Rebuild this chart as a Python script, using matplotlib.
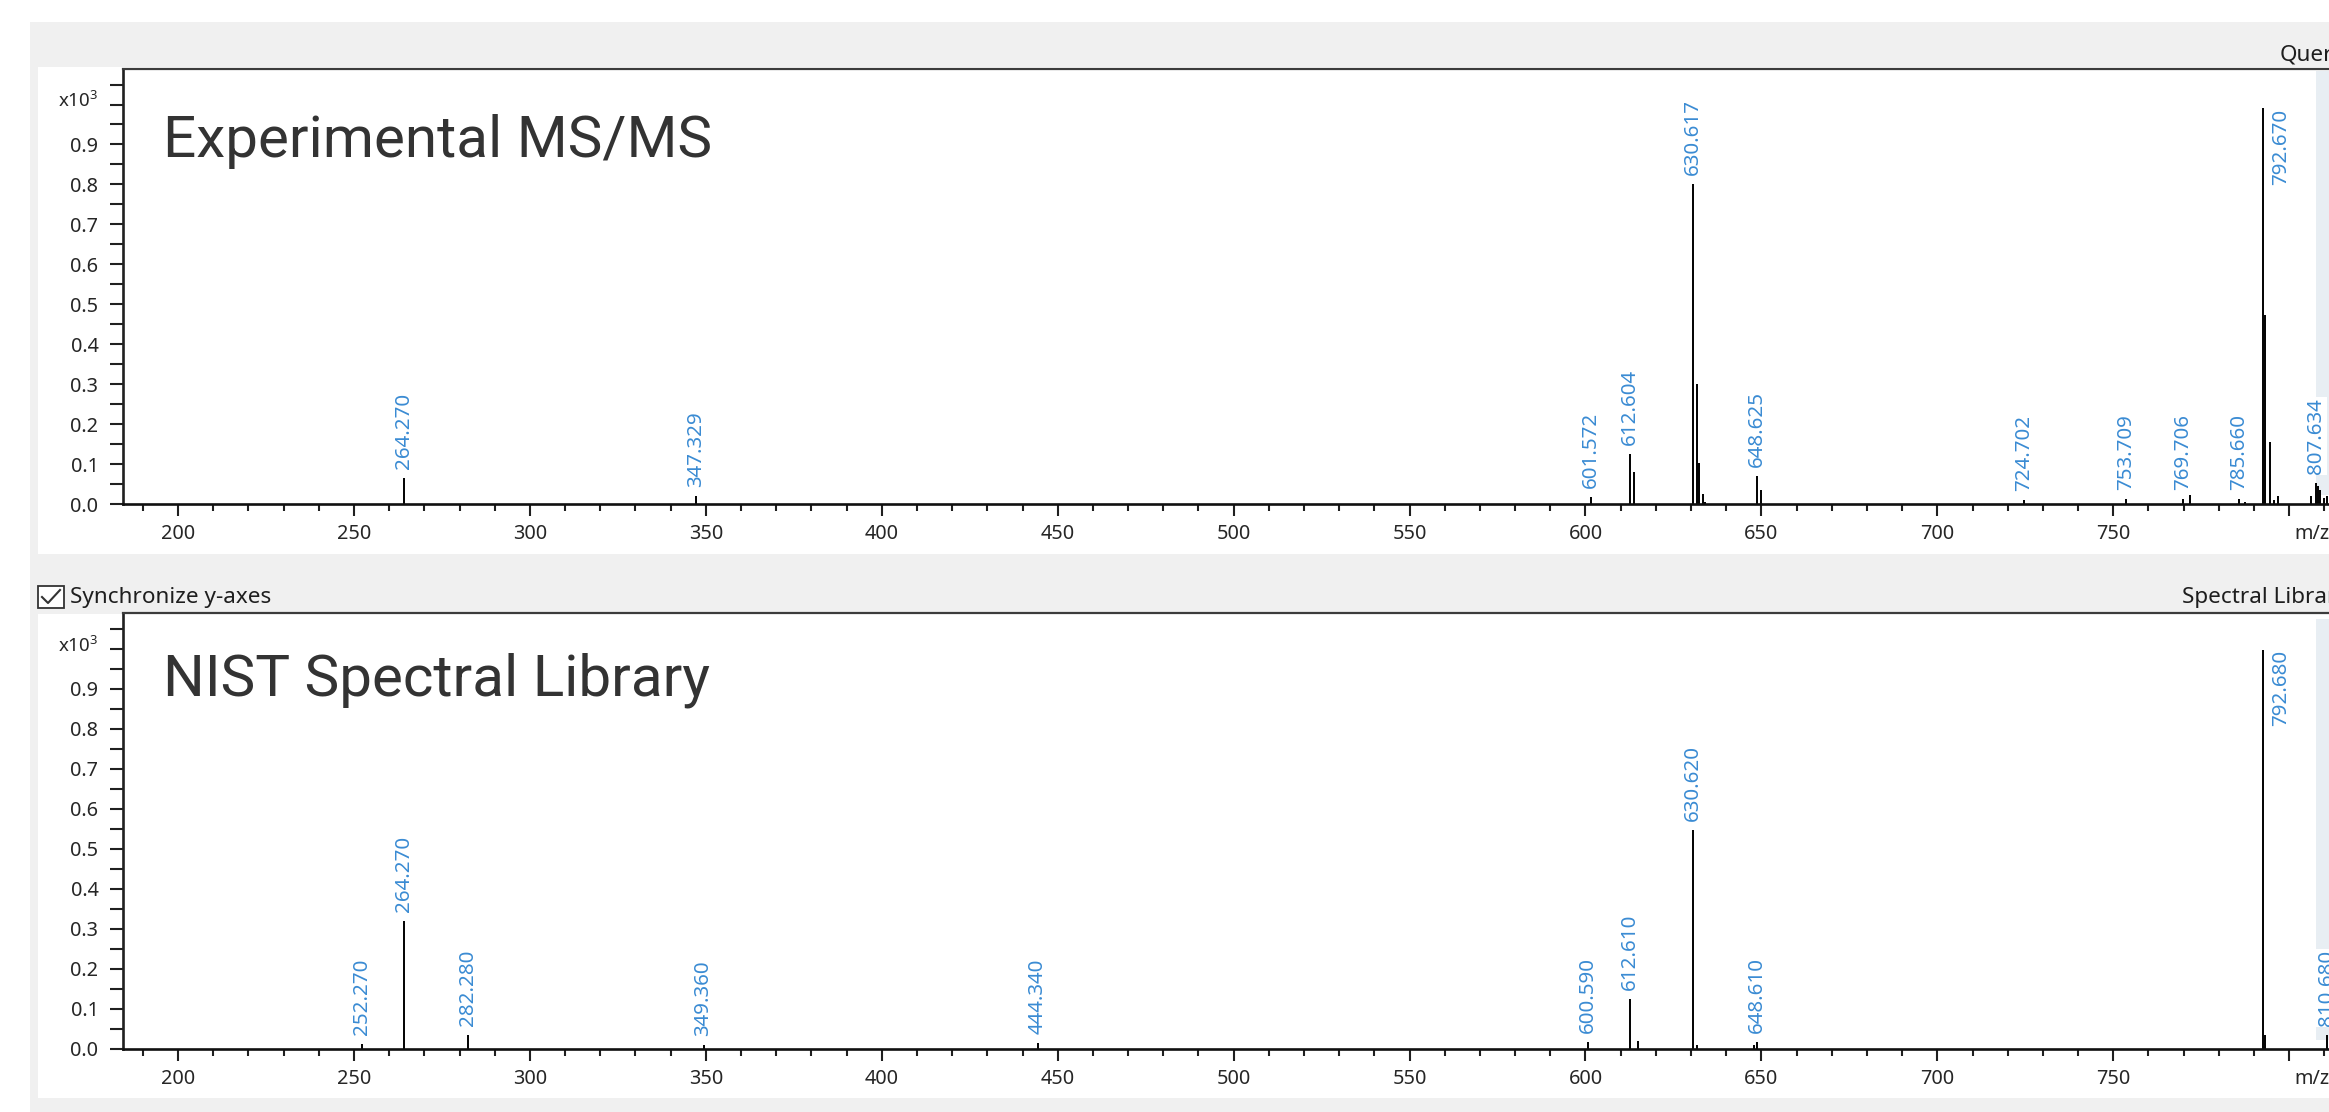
import matplotlib
matplotlib.use("Agg")
import matplotlib.pyplot as plt
from matplotlib.patches import Rectangle
from matplotlib.lines import Line2D
from matplotlib.ticker import MultipleLocator, FixedLocator, FixedFormatter

plt.rcParams['font.family'] = ['Noto Sans', 'DejaVu Sans']
plt.rcParams['mathtext.default'] = 'regular'

# ---------------- data ----------------
# Experimental MS/MS (relative intensity, x10^3)
exp_label_mz = [264.270, 347.329, 601.572, 612.604, 630.617, 648.625,
                724.702, 753.709, 769.706, 785.660, 792.670, 807.634]
exp_label_int = [0.065, 0.020, 0.017, 0.126, 0.802, 0.071,
                 0.011, 0.012, 0.012, 0.013, 0.990, 0.052]
exp_other_mz = [613.74, 631.67, 632.12, 633.37, 634.00, 649.76,
                771.75, 787.55, 793.17, 794.55, 795.60, 796.70,
                806.20, 808.10, 808.80, 810.00, 810.60]
exp_other_int = [0.080, 0.300, 0.102, 0.025, 0.005, 0.034,
                 0.022, 0.006, 0.474, 0.155, 0.010, 0.020,
                 0.020, 0.045, 0.035, 0.015, 0.020]

# NIST Spectral Library
lib_label_mz = [252.270, 264.270, 282.280, 349.360, 444.340, 600.590,
                612.610, 630.620, 648.610, 792.680, 810.680]
lib_label_int = [0.012, 0.320, 0.033, 0.008, 0.013, 0.016,
                 0.124, 0.548, 0.017, 0.998, 0.034]
lib_other_mz = [614.80, 631.60, 648.00, 793.10]
lib_other_int = [0.020, 0.008, 0.010, 0.034]

x_ticks = [200, 250, 300, 350, 400, 450, 500, 550, 600, 650, 700, 750, 800]
x_tick_labels = ['200', '250', '300', '350', '400', '450', '500', '550',
                 '600', '650', '700', '750', '']
y_ticks = [0.0, 0.1, 0.2, 0.3, 0.4, 0.5, 0.6, 0.7, 0.8, 0.9, 1.0]
y_tick_labels = ['0.0', '0.1', '0.2', '0.3', '0.4', '0.5', '0.6', '0.7',
                 '0.8', '0.9', '']

panel_titles = ['Experimental MS/MS', 'NIST Spectral Library']

# ---------------- layout ----------------
W, H, DPI = 2329, 1112, 100
fig = plt.figure(figsize=(W / DPI, H / DPI), dpi=DPI, facecolor='white')


def fx(x):
    return x / W


def fy(y):
    return 1 - y / H


def fig_rect(x0, y0, x1, y1, color, z=-5, ec='none', lw=0):
    r = Rectangle((fx(x0), fy(y1)), fx(x1) - fx(x0), fy(y0) - fy(y1),
                  transform=fig.transFigure, facecolor=color,
                  edgecolor=ec, linewidth=lw, zorder=z)
    fig.add_artist(r)
    return r


# window background
fig_rect(30, 22, W + 5, H + 5, '#f0f0f0', z=-10)
fig_rect(38, 67, W + 5, 554, 'white', z=-9)
fig_rect(38, 614, W + 5, 1098, 'white', z=-9)

AX_L = 123.3
MZ0, MZ1 = 184.45, 830.0
PX_PER_MZ = 3.5187
Y1 = 1.09
PX_PER_I = 399.5
ax_w = (MZ1 - MZ0) * PX_PER_MZ
ax_h = Y1 * PX_PER_I

baselines = [504.0, 1048.5]
title_pos = [(163, 157), (163, 695)]
strips = [(71, 495), (619, 1040)]

label_color = '#3a8bd3'
tick_color = '#262626'
TICK_FS = 14.3
LABEL_FS = 14.8

panels = [
    (exp_label_mz, exp_label_int, exp_other_mz, exp_other_int),
    (lib_label_mz, lib_label_int, lib_other_mz, lib_other_int),
]

for i, (lmz, lint, omz, oint) in enumerate(panels):
    base = baselines[i]
    ax = fig.add_axes([fx(AX_L), fy(base), ax_w / W, ax_h / H])
    ax.set_zorder(0)
    ax.set_xlim(MZ0, MZ1)
    ax.set_ylim(0, Y1)
    ax.set_facecolor('white')

    # light strip at the right edge
    sy0, sy1 = strips[i]
    ax.add_patch(Rectangle((fx(2316), fy(sy1)), fx(W + 5) - fx(2316),
                           fy(sy0) - fy(sy1), transform=fig.transFigure,
                           facecolor='#e8eef3', edgecolor='none', zorder=0.5))

    ax.vlines(omz, 0, oint, color='black', lw=1.4, zorder=2)
    ax.vlines(lmz, 0, lint, color='black', lw=1.4, zorder=2)

    for mz, inten in zip(lmz, lint):
        txt = f'{mz:.3f}'
        if inten > 0.9:
            ax.annotate(txt, (mz, inten), xytext=(13.0, 0), textcoords='offset points',
                        rotation=90, ha='center', va='top', fontsize=LABEL_FS,
                        color=label_color, annotation_clip=False, zorder=4,
                        bbox=dict(boxstyle='square,pad=0.05', fc='white', ec='none'))
        else:
            ax.annotate(txt, (mz, inten), xytext=(0, 6.5), textcoords='offset points',
                        rotation=90, ha='center', va='bottom', fontsize=LABEL_FS,
                        color=label_color, annotation_clip=False, zorder=4,
                        bbox=dict(boxstyle='square,pad=0.05', fc='white', ec='none'))

    # spines
    ax.spines['right'].set_visible(False)
    ax.spines['top'].set_color('#3c3c3c')
    ax.spines['top'].set_linewidth(1.6)
    ax.spines['left'].set_color('#202020')
    ax.spines['left'].set_linewidth(1.9)
    ax.spines['bottom'].set_color('#101010')
    ax.spines['bottom'].set_linewidth(1.9)

    # ticks
    ax.xaxis.set_major_locator(FixedLocator(x_ticks))
    ax.xaxis.set_major_formatter(FixedFormatter(x_tick_labels))
    ax.xaxis.set_minor_locator(MultipleLocator(10))
    ax.yaxis.set_major_locator(FixedLocator(y_ticks))
    ax.yaxis.set_major_formatter(FixedFormatter(y_tick_labels))
    ax.yaxis.set_minor_locator(MultipleLocator(0.05))
    ax.tick_params(axis='x', which='major', length=8.6, width=1.5, pad=6.0,
                   labelsize=TICK_FS, color='#202020', labelcolor=tick_color)
    ax.tick_params(axis='x', which='minor', length=4.7, width=1.5, color='#202020')
    ax.tick_params(axis='y', which='major', length=9.4, width=1.5, pad=8.5,
                   labelsize=TICK_FS, color='#202020', labelcolor=tick_color)
    ax.tick_params(axis='y', which='minor', length=9.4, width=1.5, color='#202020')

    ax.annotate('m/z', xy=(800, 0), xycoords='data', xytext=(3.5, -(8.6 + 6.0)),
                textcoords='offset points', ha='left', va='top', fontsize=TICK_FS,
                color=tick_color, annotation_clip=False)
    ax.annotate('x10$^{3}$', xy=(0, 1.0), xycoords=('axes fraction', 'data'),
                xytext=(-(9.4 + 8.5), 2.5), textcoords='offset points', ha='right',
                va='center', fontsize=13.5, color=tick_color, annotation_clip=False)

    tx, ty = title_pos[i]
    fig.text(fx(tx), fy(ty), panel_titles[i], fontsize=42, family='Roboto',
             color='#333333', va='baseline', ha='left', zorder=5)

# header texts
HDR_FS = 16.2
fig.text(fx(2280), fy(55), 'Query', fontsize=HDR_FS, color='#1e1e1e', va='center', ha='left')
fig.text(fx(2182), fy(597), 'Spectral Library', fontsize=HDR_FS, color='#1e1e1e',
         va='center', ha='left')
fig.text(fx(70), fy(598), 'Synchronize y-axes', fontsize=HDR_FS, color='#1e1e1e',
         va='center', ha='left')

# checkbox
fig_rect(38, 586, 64, 608, 'white', z=1, ec='#333333', lw=1.3)
fig.add_artist(Line2D([fx(42), fx(48), fx(60)], [fy(597), fy(603), fy(590)],
                      transform=fig.transFigure, color='#333333', lw=1.5, zorder=2))

fig.savefig('out.png', dpi=DPI, facecolor='white')
